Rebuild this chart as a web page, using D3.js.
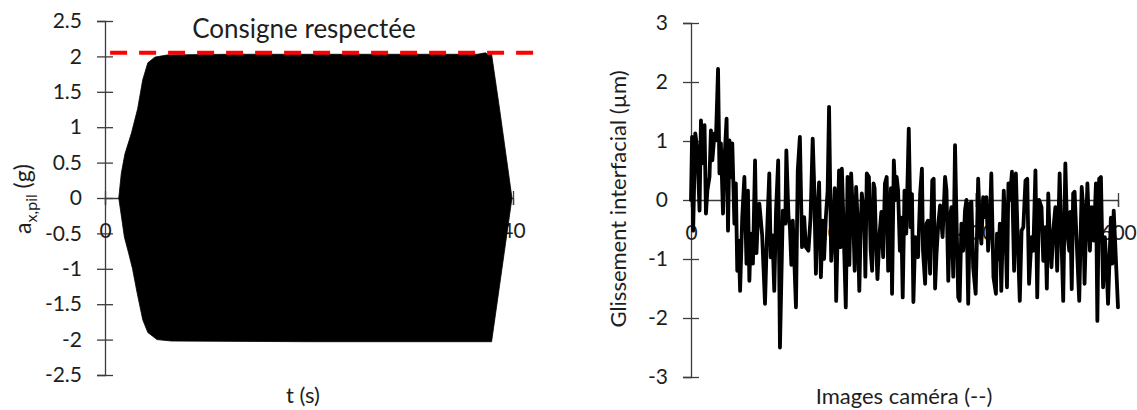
<!DOCTYPE html>
<html><head><meta charset="utf-8">
<script src="https://cdn.jsdelivr.net/npm/d3@7"></script>
<style>
body{margin:0;background:#fff}
svg{display:block}
text{font-family:Lato,"Open Sans",sans-serif;fill:#1e1e1e}
</style>
</head><body>
<svg id="c" width="1137" height="410"></svg>
<script>
// ---------- Left chart data ----------
const accTicks = [-2.5,-2,-1.5,-1,-0.5,0,0.5,1,1.5,2,2.5];
const timeTicks = [0,40];
// envelope of the dense sinusoidal signal (t in s, a in g)
const envUpperT = [1.35,1.6,1.95,2.6,3.2,3.7,4.2,4.9,6.1,12,20,30,36.5,37.3,37.6,37.9,38.7,39.9];
const envUpperA = [0,0.35,0.62,0.92,1.26,1.67,1.91,1.99,2.02,2.03,2.03,2.03,2.03,2.05,2.02,2.03,1.24,0];
const envLowerT = [1.35,1.9,2.3,2.7,3.15,3.7,4.2,5.1,6.5,20,30,37.9,39.9];
const envLowerA = [0,-0.55,-0.77,-1.0,-1.34,-1.72,-1.9,-2.0,-2.02,-2.03,-2.03,-2.03,0];
const setpointA = 2.05;
const setpointT = [0.5, 42.3];
const leftTitle = "Consigne respectée";

// ---------- Right chart data ----------
const slipTicks = [-3,-2,-1,0,1,2,3];
const frameTicks = [0,200,400,600];
const slipData = [
[0,0.0],[1.5,1.07],[3,-0.52],[6,1.13],[9,0.84],[12,-0.18],[14,1.35],[16,0.62],[19,1.27],[21,-0.23],
[23,0.16],[26,0.39],[28,1.18],[30,0.67],[33,1.13],[35,1.01],[38,2.22],[40,0.45],[42,0.96],[45,-0.23],
[47,0.67],[50,1.38],[52,-0.52],[54,1.01],[56,0.39],[58,0.96],[61,-0.4],[63,0.28],[65,-1.2],[67,-0.69],
[69,-1.54],[72,-0.29],[75,0.39],[78,-1.08],[80,0.16],[82,-1.37],[84,-0.57],[87,-1.08],[90,0.67],[92,-0.9],[94,-0.29],
[96,-0.06],[100,-0.6],[104,-1.76],[106,-0.9],[107.5,-0.35],[110,0.45],[112,-0.97],[114.5,-0.6],[117,-1.54],[119.5,-0.18],[122.5,0.67],
[125,-2.5],[129,-0.18],[132.5,-0.4],[134,0.84],[137,-0.29],[139,-0.46],[141,-1.1],[143,-0.35],[145,-0.97],[147.5,-1.82],[150,0.5],
[153,1.07],[156,-0.8],[159,-0.29],[161.5,-0.8],[165,-0.86],[168,-0.3],[171,1.04],[173,0.28],[175.5,-1.25],[178,-0.12],[180,0.3],
[182.5,-1.31],[185,-0.35],[187,-1.0],[189.5,-0.29],[192,0.16],[194,1.58],[197,-1.03],[200,-0.4],[202,0.2],[204,-1.71],[206,-0.6],[208,0.5],[210,-0.8],[212,0.53],
[214,-0.29],[217.5,-1.82],[220,0.39],[222.5,-1.1],[225,0.45],[228,-0.35],[230,-1.2],[232,0.22],[234,-0.3],[236.5,-1.54],[238,-0.7],[240,0.11],[243.5,-0.29],[245,-1.3],[247,0.45],
[250,0.39],[252.5,-0.86],[254.5,-1.2],[256.5,0.28],[258,0.2],[260,-0.74],[262,-1.34],[265,-0.57],[267.5,-0.2],[270,-0.97],[272.5,0.28],[275,0.39],[277,-1.2],[279,-0.4],[281,0.2],
[282.5,-1.59],[285,0.67],[287.5,0.0],[289,0.39],[291,0.16],[293.5,-0.86],[295.5,-0.3],[297.5,-1.65],[300,0.16],[302.5,-0.57],[306,1.21],
[308.5,-0.46],[310.5,0.1],[312.5,-1.73],[315,-0.63],[317,-0.69],[319,-0.97],[322,0.11],[324.5,0.53],[326,-0.86],[329,-1.42],[331,-0.4],
[333,-0.35],[336,-1.25],[339,0.33],[341,0.36],[343,-1.5],[345,-0.91],[347.5,-0.4],[350,-0.09],[352,-0.4],[353.5,-0.63],[357,0.39],[359,0.16],
[361.5,-1.37],[364,-0.29],[366,-0.12],[368.5,-1.3],[371,0.93],[373,-0.29],[375.5,-1.65],[377.5,-1.71],[380,-0.4],[382.5,-0.86],[385,-0.18],
[387,0.0],[389.5,-1.76],[392,-0.06],[394,-0.03],[396.5,-1.14],[400,-1.59],[402,-0.5],[403.5,0.36],[406,-0.46],[408,-0.74],[410.5,0.05],
[413,-0.29],[415,0.05],[417.5,-0.86],[420,-0.35],[422,0.45],[425,-1.31],[428.5,-1.59],[430,-0.57],[432,-1.0],[434,-0.4],[436,-1.54],
[439.5,0.16],[442,-0.57],[444,-1.48],[446,0.28],[448,0.0],[451,0.48],[454,-1.2],[456.5,0.45],[459,-0.63],[462,-1.71],
[464.5,-0.52],[467,-0.46],[470,0.33],[472.5,0.36],[475,-1.42],[478.5,-0.63],[481,-0.86],[484,0.5],[486.5,-1.65],[489,0.0],
[492.5,-0.12],[495,-1.03],[498,-0.46],[500,-1.5],[502,0.11],[504,-0.63],[506.5,-1.14],[509,-0.52],[512,-0.12],[514.5,-1.2],[516,-0.5],[518,0.45],
[520.5,-0.63],[523,-1.71],[526,0.62],[528.5,-0.52],[531.5,-0.86],[533,-0.2],[535,-1.51],[537,0.11],[539,0.14],[542.5,-0.86],[545.5,-1.71],
[549,0.22],[551,-0.12],[553,-1.42],[555,-0.5],[557,0.28],[560.5,-0.86],[563,-0.12],[566,-0.69],[569,0.28],[571,-2.05],[573.5,0.36],
[576,0.39],[579,-1.48],[581.5,-0.63],[584,-1.14],[586,-1.76],[588.5,-0.86],[590,-0.3],[592,-1.08],[594,-0.18],[596.5,-0.86],[600,-1.82]
];

const svg = d3.select("#c");
const AX = "#3c3c3c";
const TICK_FS = 21, TITLE_FS = 22;
const plainFmt = d => String(d);

function styleAxis(g, cross, vertical){
  g.select(".domain").attr("stroke", AX).attr("stroke-width", 1.3);
  g.selectAll(".tick line").attr("stroke", AX).attr("stroke-width", 1.3);
  if (vertical) g.selectAll(".tick line").attr("x1", cross).attr("x2", -cross);
  else g.selectAll(".tick line").attr("y1", -cross).attr("y2", cross);
  g.selectAll(".tick text").attr("font-size", TICK_FS).attr("font-family", "Lato").attr("fill", "#1e1e1e");
}

// ---------- Left chart ----------
const xL = d3.scaleLinear().domain([0,40]).range([105,513]);
const yL = d3.scaleLinear().domain([-2.5,2.5]).range([375,21]);

const gyL = svg.append("g").attr("transform", `translate(${xL(0)},0)`)
  .call(d3.axisLeft(yL).tickValues(accTicks).tickSize(8).tickPadding(15).tickFormat(plainFmt));
styleAxis(gyL, 8, true);

const gxL = svg.append("g").attr("transform", `translate(0,${yL(0)})`)
  .call(d3.axisBottom(xL).tickValues(timeTicks).tickSize(7).tickPadding(18).tickFormat(plainFmt));
styleAxis(gxL, 7, false);

// signal envelope (filled)
const envPts = envUpperT.map((t,i)=>[t, envUpperA[i]])
  .concat(envLowerT.map((t,i)=>[t, envLowerA[i]]).reverse());
svg.append("path")
  .attr("d", d3.line().x(d=>xL(d[0])).y(d=>yL(d[1]))(envPts) + "Z")
  .attr("fill", "#000").attr("stroke", "#000").attr("stroke-width", 0.8);

// setpoint dashed line
svg.append("line")
  .attr("x1", xL(setpointT[0])).attr("x2", xL(setpointT[1]))
  .attr("y1", yL(setpointA)).attr("y2", yL(setpointA))
  .attr("stroke", "#ff0000").attr("stroke-width", 4).attr("stroke-dasharray", "17 12");

svg.append("text").attr("x", 304).attr("y", 38).attr("text-anchor","middle")
  .attr("font-size", 26).text(leftTitle);

svg.append("text").attr("x", 303).attr("y", 403).attr("text-anchor","middle")
  .attr("font-size", TITLE_FS).text("t (s)");

const yLab = svg.append("text").attr("transform", "translate(31,199) rotate(-90)")
  .attr("text-anchor","middle").attr("font-size", 23);
yLab.append("tspan").text("a");
yLab.append("tspan").attr("dy", 6).attr("font-size", 16).text("x,pil");
yLab.append("tspan").attr("dy", -6).text(" (g)");

// ---------- Right chart ----------
const xR = d3.scaleLinear().domain([0,600]).range([691,1118]);
const yR = d3.scaleLinear().domain([-3,3]).range([377,23]);

const gyR = svg.append("g").attr("transform", `translate(${xR(0)},0)`)
  .call(d3.axisLeft(yR).tickValues(slipTicks).tickSize(8).tickPadding(15).tickFormat(plainFmt));
styleAxis(gyR, 8, true);

const gxR = svg.append("g").attr("transform", `translate(0,${yR(0)})`)
  .call(d3.axisBottom(xR).tickValues(frameTicks).tickSize(7).tickPadding(18).tickFormat(plainFmt));
styleAxis(gxR, 7, false);

svg.append("path").datum(slipData)
  .attr("d", d3.line().x(d=>xR(d[0])).y(d=>yR(d[1])))
  .attr("fill","none").attr("stroke","#000").attr("stroke-width",3.8)
  .attr("stroke-linejoin","round").attr("stroke-linecap","round");

svg.append("text").attr("x", 904).attr("y", 404).attr("text-anchor","middle")
  .attr("font-size", TITLE_FS).text("Images caméra (--)");

svg.append("text").attr("transform", "translate(626,199) rotate(-90)")
  .attr("text-anchor","middle").attr("font-size", TITLE_FS)
  .text("Glissement interfacial (µm)");
</script>
</body></html>
